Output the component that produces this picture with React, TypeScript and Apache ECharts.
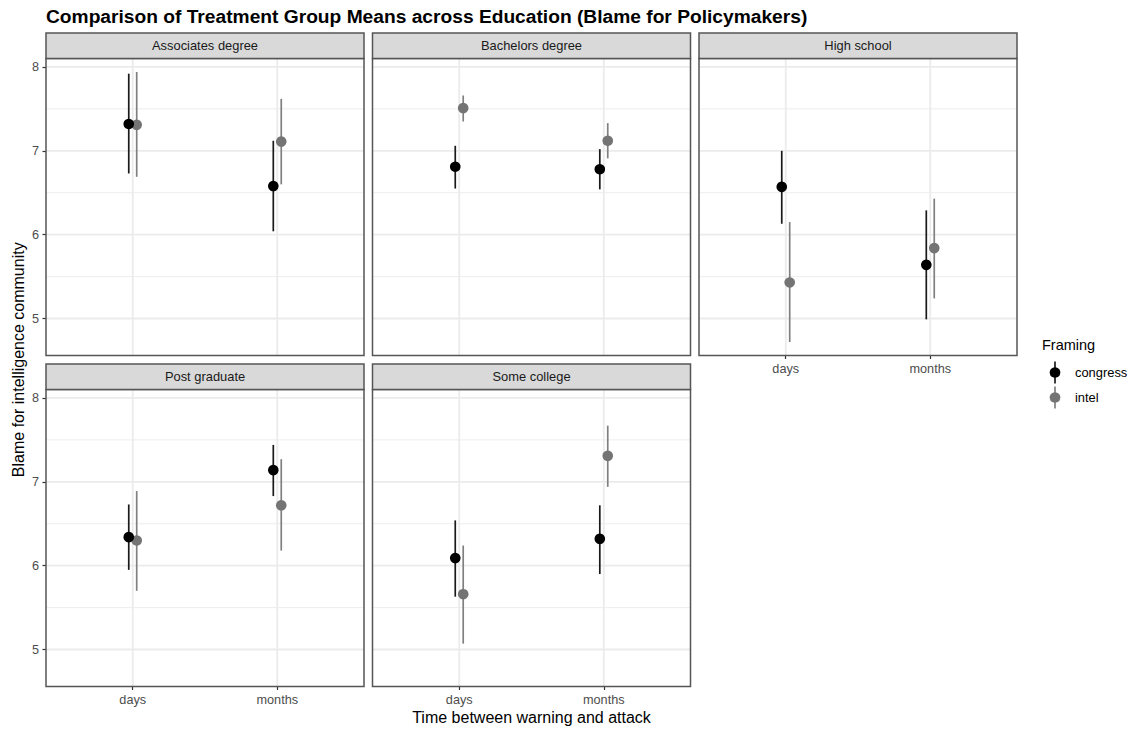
import React, { useEffect, useRef } from "react";
import * as echarts from "echarts";

// Facets, x categories and series
const educationLevels = ["Associates degree", "Bachelors degree", "High school", "Post graduate", "Some college"];
const timeCategories = ["days", "months"];
const framings = ["congress", "intel"];

// Means and interval bounds per education level, as [days, months]
const congressMean = [[7.32, 6.58], [6.81, 6.78], [6.57, 5.64], [6.34, 7.14], [6.09, 6.32]];
const congressLower = [[6.73, 6.04], [6.55, 6.54], [6.13, 4.99], [5.95, 6.83], [5.63, 5.9]];
const congressUpper = [[7.92, 7.12], [7.06, 7.02], [7.0, 6.29], [6.73, 7.44], [6.54, 6.72]];
const intelMean = [[7.31, 7.11], [7.51, 7.12], [5.43, 5.84], [6.3, 6.72], [5.66, 7.31]];
const intelLower = [[6.69, 6.6], [7.35, 6.91], [4.72, 5.24], [5.7, 6.18], [5.07, 6.94]];
const intelUpper = [[7.94, 7.62], [7.66, 7.33], [6.15, 6.43], [6.89, 7.27], [6.24, 7.67]];

// Axis breaks
const yMajorTicks = [5, 6, 7, 8];
const yMinorTicks = [5.5, 6.5, 7.5];
const xTickPositions = [1, 2];

const FONT = "'Liberation Sans', Arial, Helvetica, sans-serif";
const W = 1133;
const H = 730;

// Facet layout
const PANEL_W = 318;
const PANEL_H = 297;
const STRIP_H = 25.5;
const GAP = 8.5;
const LEFT = 46;
const TOP = 33;
const NCOL = 3;

const BORDER = "#555555";
const GRID_COLOR = "#ebebeb";
const TICK_FONT = 12.7;
const STRIP_FONT = 12.9;
const AXIS_TITLE_FONT = 16;

const seriesStyle: Record<string, { point: string; line: string; offset: number }> = {
  congress: { point: "#000000", line: "#1a1a1a", offset: -0.0275 },
  intel: { point: "#747474", line: "#808080", offset: 0.0275 },
};

const seriesData: Record<string, { mean: number[][]; lower: number[][]; upper: number[][] }> = {
  congress: { mean: congressMean, lower: congressLower, upper: congressUpper },
  intel: { mean: intelMean, lower: intelLower, upper: intelUpper },
};

function panelBox(i: number) {
  const col = i % NCOL;
  const row = Math.floor(i / NCOL);
  const stripTop = TOP + row * (STRIP_H + PANEL_H + GAP);
  return {
    col,
    row,
    left: LEFT + col * (PANEL_W + GAP),
    stripTop,
    plotTop: stripTop + STRIP_H,
  };
}

export default function App() {
  const ref = useRef<HTMLDivElement>(null);

  useEffect(() => {
    if (!ref.current) return;
    const chart = echarts.init(ref.current, undefined, { renderer: "svg", width: W, height: H });

    // shared y scale with 5% expansion of the data range
    const allLo = Math.min(...congressLower.flat(), ...intelLower.flat());
    const allHi = Math.max(...congressUpper.flat(), ...intelUpper.flat());
    const pad = (allHi - allLo) * 0.05;
    const yMin = allLo - pad;
    const yMax = allHi + pad;

    const n = educationLevels.length;
    const grids: any[] = [];
    const xAxes: any[] = [];
    const yAxes: any[] = [];
    const series: any[] = [];
    const graphics: any[] = [];

    for (let i = 0; i < n; i++) {
      const b = panelBox(i);
      const showX = i + NCOL >= n; // nothing below this panel
      const showY = b.col === 0;

      grids.push({
        left: b.left,
        top: b.plotTop,
        width: PANEL_W,
        height: PANEL_H,
        show: true,
        backgroundColor: "#ffffff",
        borderWidth: 0,
      });

      xAxes.push({
        type: "value",
        gridIndex: i,
        min: 0.4,
        max: 2.6,
        axisLine: { show: false },
        splitLine: { show: false },
        axisTick: {
          show: showX,
          customValues: xTickPositions,
          length: 3.5,
          lineStyle: { color: "#333333", width: 1.2 },
        },
        axisLabel: {
          show: showX,
          customValues: xTickPositions,
          formatter: (v: number) => timeCategories[Math.round(v) - 1] ?? "",
          color: "#4d4d4d",
          fontSize: TICK_FONT,
          fontFamily: FONT,
          margin: 7,
        },
      });

      yAxes.push({
        type: "value",
        gridIndex: i,
        min: yMin,
        max: yMax,
        axisLine: { show: false },
        splitLine: { show: false },
        axisTick: {
          show: showY,
          customValues: yMajorTicks,
          length: 3.5,
          lineStyle: { color: "#333333", width: 1.2 },
        },
        axisLabel: {
          show: showY,
          customValues: yMajorTicks,
          formatter: (v: number) => String(v),
          color: "#4d4d4d",
          fontSize: TICK_FONT,
          fontFamily: FONT,
          margin: 7,
        },
      });

      // panel grid lines: [kind, value]; 0 minor horizontal, 1 major horizontal, 2 vertical
      const gridLines = [
        ...yMinorTicks.map((v) => [0, v]),
        ...yMajorTicks.map((v) => [1, v]),
        ...xTickPositions.map((v) => [2, v]),
      ];
      series.push({
        type: "custom",
        xAxisIndex: i,
        yAxisIndex: i,
        silent: true,
        z: 1,
        data: gridLines,
        renderItem: (params: any, api: any) => {
          const kind = api.value(0);
          const v = api.value(1);
          const cs = params.coordSys;
          if (kind === 2) {
            const x = api.coord([v, yMin])[0];
            return {
              type: "line",
              shape: { x1: x, y1: cs.y, x2: x, y2: cs.y + cs.height },
              style: { stroke: GRID_COLOR, lineWidth: 1.8 },
            };
          }
          const y = api.coord([1, v])[1];
          return {
            type: "line",
            shape: { x1: cs.x, y1: y, x2: cs.x + cs.width, y2: y },
            style: { stroke: GRID_COLOR, lineWidth: kind === 1 ? 1.8 : 0.9 },
          };
        },
      });

      // intel drawn first so congress sits on top where they overlap
      [...framings].reverse().forEach((f) => {
        const st = seriesStyle[f];
        const d = seriesData[f];
        const data = timeCategories.map((_, t) => [t + 1 + st.offset, d.mean[i][t], d.lower[i][t], d.upper[i][t]]);
        series.push({
          type: "custom",
          name: f,
          xAxisIndex: i,
          yAxisIndex: i,
          z: 3,
          data,
          renderItem: (_params: any, api: any) => {
            const x = api.value(0);
            const pM = api.coord([x, api.value(1)]);
            const pLo = api.coord([x, api.value(2)]);
            const pHi = api.coord([x, api.value(3)]);
            return {
              type: "group",
              children: [
                {
                  type: "line",
                  shape: { x1: pLo[0], y1: pLo[1], x2: pHi[0], y2: pHi[1] },
                  style: { stroke: st.line, lineWidth: 1.7 },
                },
                {
                  type: "circle",
                  shape: { cx: pM[0], cy: pM[1], r: 5.3 },
                  style: { fill: st.point },
                },
              ],
            };
          },
        });
      });

      // panel border
      graphics.push({
        type: "rect",
        z: 100,
        silent: true,
        shape: { x: b.left, y: b.plotTop, width: PANEL_W, height: PANEL_H },
        style: { fill: "none", stroke: BORDER, lineWidth: 1.5 },
      });
      // facet strip
      graphics.push({
        type: "rect",
        z: 100,
        silent: true,
        shape: { x: b.left, y: b.stripTop, width: PANEL_W, height: STRIP_H },
        style: { fill: "#d9d9d9", stroke: BORDER, lineWidth: 1.5 },
      });
      graphics.push({
        type: "text",
        z: 101,
        silent: true,
        x: b.left + PANEL_W / 2,
        y: b.stripTop + STRIP_H / 2,
        style: {
          text: educationLevels[i],
          align: "center",
          verticalAlign: "middle",
          fontSize: STRIP_FONT,
          fontFamily: FONT,
          fill: "#1a1a1a",
        },
      });
    }

    const panelsRight = LEFT + NCOL * PANEL_W + (NCOL - 1) * GAP;
    const panelsBottom = TOP + 2 * (STRIP_H + PANEL_H) + GAP;

    // titles
    graphics.push({
      type: "text",
      x: LEFT,
      y: 16,
      style: {
        text: "Comparison of Treatment Group Means across Education (Blame for Policymakers)",
        align: "left",
        verticalAlign: "middle",
        fontSize: 19.2,
        fontWeight: "bold",
        fontFamily: FONT,
        fill: "#000000",
      },
    });
    graphics.push({
      type: "text",
      x: 18,
      y: (TOP + panelsBottom) / 2,
      rotation: Math.PI / 2,
      style: {
        text: "Blame for intelligence community",
        align: "center",
        verticalAlign: "middle",
        fontSize: AXIS_TITLE_FONT,
        fontFamily: FONT,
        fill: "#000000",
      },
    });
    graphics.push({
      type: "text",
      x: (LEFT + panelsRight) / 2,
      y: 717,
      style: {
        text: "Time between warning and attack",
        align: "center",
        verticalAlign: "middle",
        fontSize: AXIS_TITLE_FONT,
        fontFamily: FONT,
        fill: "#000000",
      },
    });

    // legend
    const legendX = 1042;
    graphics.push({
      type: "text",
      x: legendX,
      y: 345,
      style: {
        text: "Framing",
        align: "left",
        verticalAlign: "middle",
        fontSize: 14.5,
        fontFamily: FONT,
        fill: "#000000",
      },
    });
    framings.forEach((f, k) => {
      const st = seriesStyle[f];
      const cy = 372.5 + k * 25;
      const cx = 1055;
      graphics.push({
        type: "line",
        shape: { x1: cx, y1: cy - 11, x2: cx, y2: cy + 11 },
        style: { stroke: st.line, lineWidth: 1.7 },
      });
      graphics.push({
        type: "circle",
        shape: { cx, cy, r: 5.3 },
        style: { fill: st.point },
      });
      graphics.push({
        type: "text",
        x: 1075,
        y: cy,
        style: {
          text: f,
          align: "left",
          verticalAlign: "middle",
          fontSize: STRIP_FONT,
          fontFamily: FONT,
          fill: "#000000",
        },
      });
    });

    chart.setOption({
      animation: false,
      backgroundColor: "#ffffff",
      textStyle: { fontFamily: FONT },
      grid: grids,
      xAxis: xAxes,
      yAxis: yAxes,
      series,
      graphic: graphics,
    });

    return () => chart.dispose();
  }, []);

  return (
    <div
      ref={ref}
      style={{ position: "absolute", left: 0, top: 0, width: W, height: H, background: "#ffffff" }}
    />
  );
}
